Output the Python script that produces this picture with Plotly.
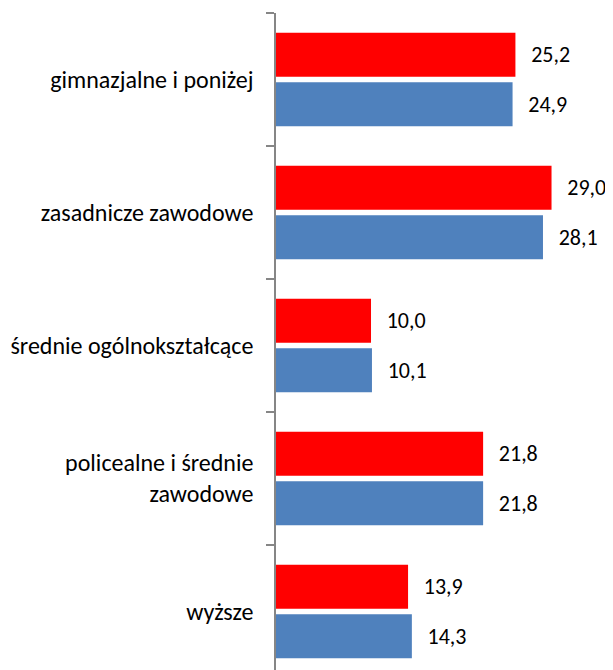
import plotly.graph_objects as go

categories = [
    "gimnazjalne i poniżej",
    "zasadnicze zawodowe",
    "średnie ogólnokształcące",
    "policealne i średnie<br>zawodowe",
    "wyższe",
]
series_red = [25.2, 29.0, 10.0, 21.8, 13.9]
series_blue = [24.9, 28.1, 10.1, 21.8, 14.3]

FONT = "Carlito, Lato, sans-serif"
PAD = "\u00a0\u00a0\u200a"

fig = go.Figure()
fig.add_trace(go.Bar(
    y=categories, x=series_red, orientation="h",
    marker=dict(color="#FF0000", line=dict(width=0)),
    texttemplate=PAD + "%{x:.1f}", textposition="outside",
    constraintext="none", cliponaxis=False,
    textfont=dict(family=FONT, size=22, color="#000000"),
    showlegend=False,
))
fig.add_trace(go.Bar(
    y=categories, x=series_blue, orientation="h",
    marker=dict(color="#4F81BD", line=dict(width=0)),
    texttemplate=PAD + "%{x:.1f}", textposition="outside",
    constraintext="none", cliponaxis=False,
    textfont=dict(family=FONT, size=22, color="#000000"),
    showlegend=False,
))

fig.update_layout(
    width=605, height=662,
    margin=dict(l=268, r=0, t=5, b=0),
    paper_bgcolor="white", plot_bgcolor="white",
    barmode="group", bargap=0.256, bargroupgap=0.11,
    separators=", ",
    font=dict(family=FONT, size=24, color="#000000"),
    xaxis=dict(range=[0, 35.47], visible=False, showgrid=False, zeroline=False),
    yaxis=dict(
        range=[4.44, -0.5], type="category",
        showline=True, linecolor="#868686", linewidth=1.5,
        ticks="outside", tickson="boundaries", ticklen=8,
        tickcolor="#868686", tickwidth=1.5,
        ticklabelstandoff=16,
        showgrid=False, zeroline=False,
        tickfont=dict(family=FONT, size=24, color="#000000"),
    ),
)

fig.write_html("out.html")
